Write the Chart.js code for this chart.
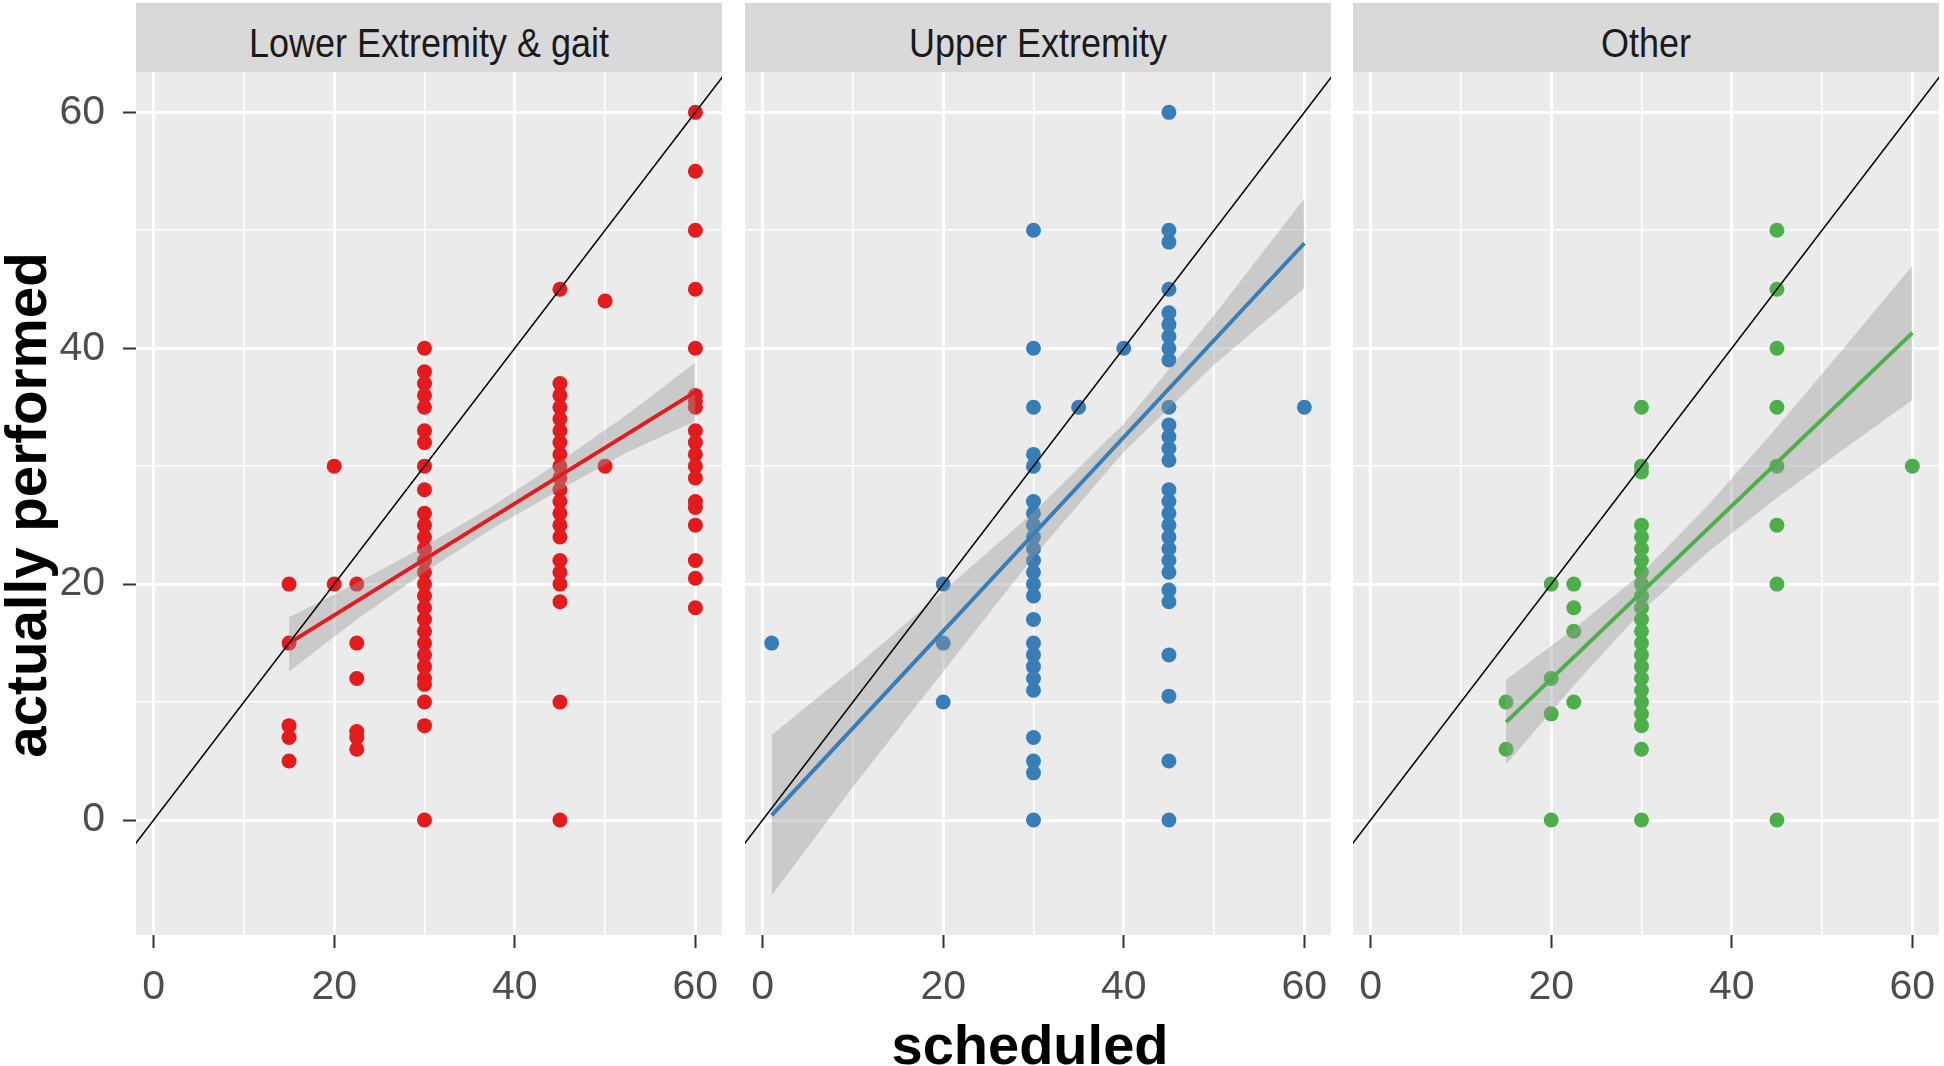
<!DOCTYPE html>
<html>
<head>
<meta charset="utf-8">
<script src="https://cdn.jsdelivr.net/npm/chart.js"></script>
<style>
  html, body { margin: 0; padding: 0; background: #ffffff; }
  body { width: 1944px; height: 1066px; position: relative; overflow: hidden;
         font-family: "Liberation Sans", Arial, sans-serif; }
  .strip { position: absolute; top: 3px; height: 69px; background: #D9D9D9; color: #1A1A1A;
           font-size: 36px; line-height: 69px; text-align: center; white-space: nowrap; }
  .strip span { display: inline-block; transform: translateY(5px) scaleY(1.12); }
  canvas { position: absolute; }
  .xtitle { position: absolute; left: 730px; width: 600px; top: 1017px; height: 56px; line-height: 56px;
            text-align: center; font-weight: bold; font-size: 56px; color: #000; }
  .ytitle { position: absolute; left: -323px; top: 475px; width: 700px; height: 60px; line-height: 60px;
            text-align: center; font-weight: bold; font-size: 56.5px; color: #000; transform: rotate(-90deg); white-space: nowrap; }
</style>
</head>
<body>
<div class="strip" style="left:136px;width:586px;"><span id="s0"></span></div>
<div class="strip" style="left:745px;width:586px;"><span id="s1"></span></div>
<div class="strip" style="left:1353px;width:586px;"><span id="s2"></span></div>
<canvas id="c0" width="722" height="938" style="left:0px;top:72px;"></canvas>
<canvas id="c1" width="586" height="938" style="left:745px;top:72px;"></canvas>
<canvas id="c2" width="586" height="938" style="left:1353px;top:72px;"></canvas>
<div class="xtitle" id="xt"></div>
<div class="ytitle" id="yt"></div>
<script>
// ---------- text ----------
const panelTitles = ['Lower Extremity & gait', 'Upper Extremity', 'Other'];
const xAxisTitle = 'scheduled';
const yAxisTitle = 'actually performed';

// ---------- axes ----------
const xTickValues = [0, 10, 20, 30, 40, 50, 60];
const xTickLabels = ['0', '', '20', '', '40', '', '60'];
const yTickValues = [0, 10, 20, 30, 40, 50, 60];
const yTickLabels = ['0', '', '20', '', '40', '', '60'];
const xRange = [-1.95, 62.95];
const yRange = [-9.75, 63.42];

// ---------- identity line (y = x) ----------
const ablineX = [-5, 70];
const ablineY = [-5, 70];

// ---------- Lower Extremity & gait ----------
const lowerX = [
  15, 15, 15, 15, 15,
  20, 20,
  22.5, 22.5, 22.5, 22.5, 22.5, 22.5,
  30, 30, 30, 30, 30, 30, 30, 30, 30, 30, 30, 30, 30, 30, 30, 30, 30, 30, 30, 30, 30, 30, 30, 30, 30, 30, 30, 30,
  45, 45, 45, 45, 45, 45, 45, 45, 45, 45, 45, 45, 45, 45, 45, 45, 45, 45, 45, 45, 45,
  50, 50,
  60, 60, 60, 60, 60, 60, 60, 60, 60, 60, 60, 60, 60, 60, 60, 60, 60, 60, 60
];
const lowerY = [
  20, 15, 8, 7, 5,
  30, 20,
  20, 15, 12, 7.5, 7, 6,
  40, 38, 37, 36, 35, 33, 32, 30, 28, 26, 25, 24, 23, 22, 21, 20, 19, 18, 17, 16, 15, 14, 13, 12, 11.5, 10, 8, 0,
  45, 37, 36, 35, 34, 33, 32, 31, 30, 29, 28, 27, 26, 25, 24, 22, 21, 20, 18.5, 10, 0,
  44, 30,
  60, 55, 50, 45, 40, 36, 35.5, 35, 33, 32, 31, 30, 29, 27, 26.5, 25, 22, 20.5, 18
];
const lowerFitX = [15, 60];
const lowerFitY = [15.0, 36.3];
const lowerBandX = [15, 22.5, 30, 37.5, 45, 52.5, 60];
const lowerBandHi = [17.2, 20.1, 23.2, 26.6, 30.4, 34.4, 38.8];
const lowerBandLo = [12.6, 17.0, 21.0, 24.7, 28.0, 31.2, 33.8];

// ---------- Upper Extremity ----------
const upperX = [
  1,
  20, 20, 20,
  30, 30, 30, 30, 30, 30, 30, 30, 30, 30, 30, 30, 30, 30, 30, 30, 30, 30, 30, 30, 30, 30, 30, 30,
  35, 40,
  45, 45, 45, 45, 45, 45, 45, 45, 45, 45, 45, 45, 45, 45, 45, 45, 45, 45, 45, 45, 45, 45, 45, 45, 45, 45, 45, 45,
  60
];
const upperY = [
  15,
  20, 15, 10,
  50, 40, 35, 31, 30, 27, 26, 25, 24, 23, 22, 21, 20, 19, 17, 15, 14, 13, 12, 11, 7, 5, 4, 0,
  35, 40,
  60, 50, 49, 45, 43, 42, 41, 40, 39, 35, 33.5, 32.5, 31.5, 30.5, 28, 27, 26, 25, 24, 23, 22, 21, 19.5, 18.5, 14, 10.5, 5, 0,
  35
];
const upperFitX = [1, 60];
const upperFitY = [0.4, 48.9];
const upperBandX = [1, 10, 20, 30, 40, 50, 60];
const upperBandHi = [7.2, 12.8, 19.4, 26.1, 33.6, 42.8, 52.7];
const upperBandLo = [-6.4, 2.8, 12.6, 22.3, 31.2, 38.6, 45.1];

// ---------- Other ----------
const otherX = [
  15, 15,
  20, 20, 20, 20,
  22.5, 22.5, 22.5, 22.5,
  30, 30, 30, 30, 30, 30, 30, 30, 30, 30, 30, 30, 30, 30, 30, 30, 30, 30, 30, 30, 30, 30, 30,
  45, 45, 45, 45, 45, 45, 45, 45,
  60
];
const otherY = [
  10, 6,
  20, 12, 9, 0,
  20, 18, 16, 10,
  35, 30, 29.5, 25, 24, 23, 22, 21, 20, 19, 18, 17, 16, 15, 14, 13, 12, 11, 10, 9, 8, 6, 0,
  50, 45, 40, 35, 30, 25, 20, 0,
  30
];
const otherFitX = [15, 60];
const otherFitY = [8.3, 41.3];
const otherBandX = [15, 22.5, 30, 37.5, 45, 52.5, 60];
const otherBandHi = [11.9, 16.2, 20.9, 26.8, 33.3, 40.1, 47.0];
const otherBandLo = [4.7, 11.4, 17.7, 22.8, 27.3, 31.5, 35.6];

// ---------- styles ----------
const seriesColors = ['#E41A1C', '#377EB8', '#4DAF4A'];
const FONT = '"Liberation Sans", Arial, sans-serif';

function pts(xs, ys) { return xs.map((x, i) => ({ x: x, y: ys[i] })); }

const panelBg = {
  id: 'panelBg',
  beforeDraw(chart) {
    const a = chart.chartArea, ctx = chart.ctx;
    ctx.save();
    ctx.fillStyle = '#EBEBEB';
    ctx.fillRect(a.left, a.top, a.right - a.left, a.bottom - a.top);
    ctx.restore();
  }
};

function isMajor(ctx, vals, labels) {
  if (!ctx || !ctx.tick) return false;
  const i = vals.indexOf(ctx.tick.value);
  return i >= 0 && labels[i] !== '';
}

function noPad(s) { s.paddingTop = 0; s.paddingBottom = 0; s.paddingLeft = 0; s.paddingRight = 0; }

function makePanel(id, color, d, showY) {
  return new Chart(document.getElementById(id), {
    type: 'scatter',
    data: {
      datasets: [
        { type: 'scatter', data: pts(d.px, d.py), backgroundColor: color, borderColor: color, borderWidth: 0,
          pointRadius: 7.5, pointHoverRadius: 7.5, order: 4 },
        { type: 'line', data: pts(d.bx, d.bhi), borderColor: 'rgba(0,0,0,0)', borderWidth: 0, pointRadius: 0,
          fill: '+1', backgroundColor: 'rgba(153,153,153,0.4)', tension: 0, order: 3, clip: 0 },
        { type: 'line', data: pts(d.bx, d.blo), borderColor: 'rgba(0,0,0,0)', borderWidth: 0, pointRadius: 0,
          fill: false, tension: 0, order: 3, clip: 0 },
        { type: 'line', data: pts(d.fx, d.fy), borderColor: color, borderWidth: 4, pointRadius: 0,
          fill: false, tension: 0, order: 2, clip: 0 },
        { type: 'line', data: pts(ablineX, ablineY), borderColor: '#000000', borderWidth: 1.5, pointRadius: 0,
          fill: false, tension: 0, order: 1, clip: 0 }
      ]
    },
    options: {
      responsive: false, animation: false, devicePixelRatio: 1, events: [],
      layout: { padding: 0, autoPadding: false },
      plugins: { legend: { display: false }, tooltip: { enabled: false }, title: { display: false } },
      scales: {
        x: {
          type: 'linear', position: 'bottom', min: xRange[0], max: xRange[1],
          afterBuildTicks: s => { s.ticks = xTickValues.map(v => ({ value: v })); },
          afterFit: s => { s.height = 75; noPad(s); },
          border: { display: false },
          grid: {
            color: '#FFFFFF',
            lineWidth: c => isMajor(c, xTickValues, xTickLabels) ? 3 : 1.6,
            drawTicks: true, tickLength: 13, tickWidth: 2,
            tickColor: c => isMajor(c, xTickValues, xTickLabels) ? '#333333' : 'rgba(0,0,0,0)'
          },
          ticks: {
            autoSkip: false, maxRotation: 0, minRotation: 0, padding: 15, color: '#4D4D4D',
            font: { family: FONT, size: 41 },
            callback: (v) => { const i = xTickValues.indexOf(v); return i >= 0 ? xTickLabels[i] : ''; }
          }
        },
        y: {
          type: 'linear', position: 'left', min: yRange[0], max: yRange[1],
          afterBuildTicks: s => { s.ticks = yTickValues.map(v => ({ value: v })); },
          afterFit: s => { s.width = showY ? 136 : 0; noPad(s); },
          border: { display: false },
          grid: {
            color: '#FFFFFF',
            lineWidth: c => isMajor(c, yTickValues, yTickLabels) ? 3 : 1.6,
            drawTicks: showY, tickLength: 13, tickWidth: 2,
            tickColor: c => isMajor(c, yTickValues, yTickLabels) ? '#333333' : 'rgba(0,0,0,0)'
          },
          ticks: {
            display: showY, padding: 18, color: '#4D4D4D',
            font: { family: FONT, size: 41 },
            callback: (v) => { const i = yTickValues.indexOf(v); return i >= 0 ? yTickLabels[i] : ''; }
          }
        }
      }
    },
    plugins: [panelBg]
  });
}

document.getElementById('s0').textContent = panelTitles[0];
document.getElementById('s1').textContent = panelTitles[1];
document.getElementById('s2').textContent = panelTitles[2];
document.getElementById('xt').textContent = xAxisTitle;
document.getElementById('yt').textContent = yAxisTitle;

makePanel('c0', seriesColors[0], { px: lowerX, py: lowerY, fx: lowerFitX, fy: lowerFitY, bx: lowerBandX, bhi: lowerBandHi, blo: lowerBandLo }, true);
makePanel('c1', seriesColors[1], { px: upperX, py: upperY, fx: upperFitX, fy: upperFitY, bx: upperBandX, bhi: upperBandHi, blo: upperBandLo }, false);
makePanel('c2', seriesColors[2], { px: otherX, py: otherY, fx: otherFitX, fy: otherFitY, bx: otherBandX, bhi: otherBandHi, blo: otherBandLo }, false);
</script>
</body>
</html>
